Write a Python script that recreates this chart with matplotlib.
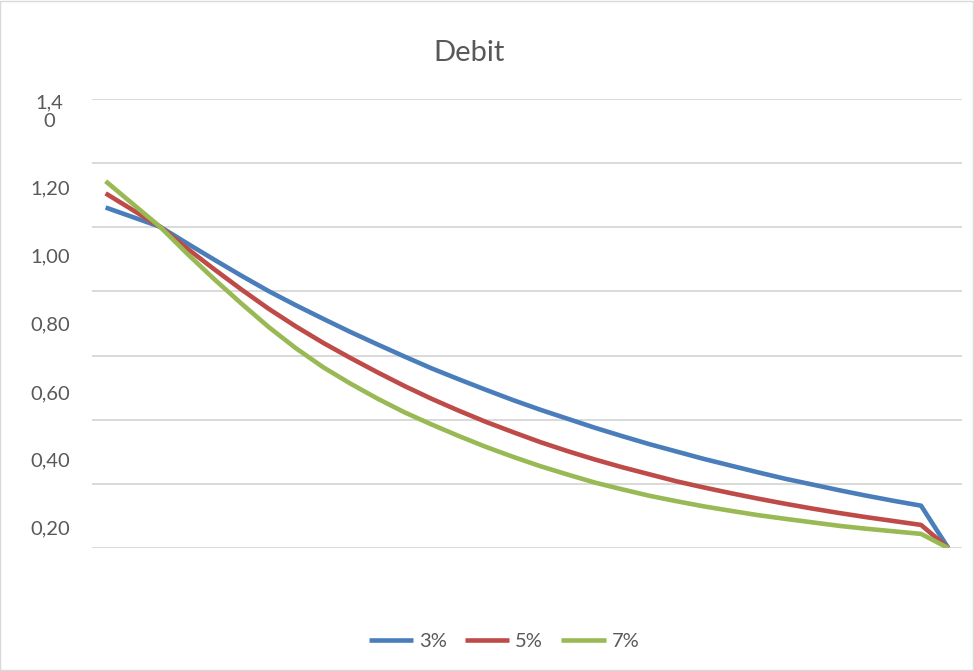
import numpy as np
import matplotlib.pyplot as plt
from matplotlib.patches import Rectangle
from matplotlib.transforms import blended_transform_factory, offset_copy

# ================= data =================
series_names = ['3%', '5%', '7%']

debit_3 = [1.062, 1.032, 1.002, 0.950, 0.899, 0.849, 0.801, 0.757, 0.715, 0.674,
           0.635, 0.597, 0.560, 0.526, 0.493, 0.461, 0.431, 0.403, 0.375, 0.349,
           0.324, 0.301, 0.278, 0.257, 0.236, 0.216, 0.198, 0.180, 0.163, 0.147,
           0.132, 0.0]
debit_5 = [1.106, 1.054, 1.002, 0.934, 0.869, 0.806, 0.746, 0.691, 0.640, 0.593,
           0.548, 0.505, 0.465, 0.428, 0.393, 0.361, 0.330, 0.302, 0.276, 0.252,
           0.230, 0.208, 0.189, 0.171, 0.154, 0.138, 0.123, 0.109, 0.096, 0.084,
           0.072, 0.0]
debit_7 = [1.144, 1.073, 1.002, 0.918, 0.838, 0.762, 0.689, 0.623, 0.564, 0.513,
           0.466, 0.423, 0.385, 0.349, 0.315, 0.284, 0.255, 0.229, 0.204, 0.183,
           0.163, 0.146, 0.130, 0.116, 0.1025, 0.091, 0.080, 0.069, 0.060, 0.052,
           0.044, 0.0]

grid_values = [0.0, 0.2, 0.4, 0.6, 0.8, 1.0, 1.2, 1.4]
tick_labels = ['1,4\n0', '1,20', '1,00', '0,80', '0,60', '0,40', '0,20']
# Excel draws the labels a bit off their gridlines; keep that look
tick_label_y = [1.36, 1.119, 0.909, 0.697, 0.481, 0.272, 0.059]

colors = ['#4A7EBB', '#BE4B48', '#98B954']
text_color = '#595959'
grid_color = '#D9D9D9'

plt.rcParams['font.family'] = ['Lato', 'DejaVu Sans']

# ================= figure =================
fig = plt.figure(figsize=(9.74, 6.71), dpi=100)
ax = fig.add_axes([0.0945, 0.1833, 0.893, 0.669])

x = np.arange(len(debit_3))
for vals, name, c in zip([debit_3, debit_5, debit_7], series_names, colors):
    ax.plot(x, vals, color=c, linewidth=3.3, label=name,
            solid_joinstyle='round', solid_capstyle='butt')

ax.set_xlim(-0.5, len(x) - 0.5)
ax.set_ylim(0, 1.4)
for g in grid_values:
    ax.axhline(g, color=grid_color, linewidth=1.4, zorder=0)

ax.set_xticks([])
ax.set_yticks([])
for s in ax.spines.values():
    s.set_visible(False)

trans = blended_transform_factory(fig.transFigure, ax.transData)
for lab, yv in zip(tick_labels, tick_label_y):
    lines = lab.split('\n')
    if len(lines) > 1:
        # wrapped label: one text per line, ~19 px apart, centred
        for k, part in enumerate(lines):
            dy = (len(lines) - 1) / 2 * 13.7 - k * 13.7
            tr = offset_copy(trans, fig=fig, x=0, y=dy, units='points')
            ax.text(49 / 974, yv, part, transform=tr, ha='center', va='center',
                    fontsize=14.5, color=text_color)
    else:
        ax.text(70 / 974, yv, lab, transform=trans, ha='right', va='center',
                fontsize=14.5, color=text_color)

fig.text(469 / 974, 1 - 53 / 671, 'Debit', ha='center', va='center',
         fontsize=21, color=text_color)

leg = fig.legend(loc='center', bbox_to_anchor=(504 / 974, 1 - 641 / 671),
                 ncol=3, frameon=False, fontsize=14.5, handlelength=2.2,
                 handletextpad=0.3, columnspacing=0.9)
for t in leg.get_texts():
    t.set_color(text_color)

# chart area border
fig.patches.append(Rectangle((0.0005, 0.0008), 0.998, 0.998, transform=fig.transFigure,
                             fill=False, edgecolor=grid_color, linewidth=1.0))

fig.savefig('out.png', dpi=100)
